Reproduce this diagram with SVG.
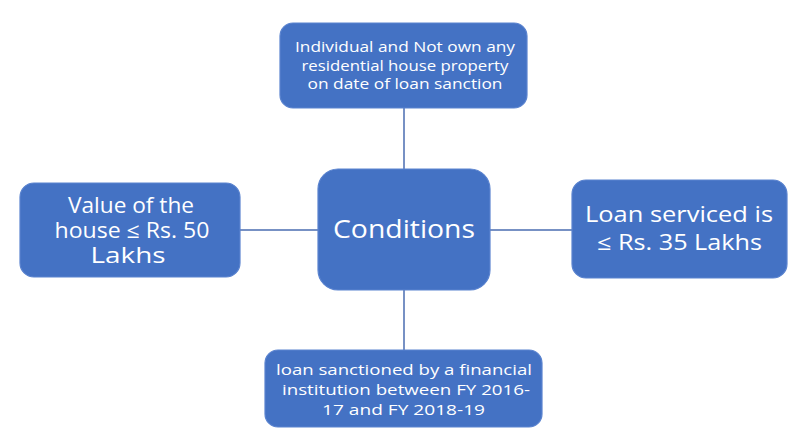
<svg xmlns="http://www.w3.org/2000/svg" width="806" height="448" viewBox="0 0 806 448">
<style>
.box{fill:#4472c4;stroke:#5a83cf;stroke-width:1.2}
.t{fill:#ffffff;font-family:"Open Sans","Noto Sans",sans-serif;text-anchor:middle}
.c{stroke:#4a6db0;stroke-width:1.5;fill:none}
</style>
<rect width="806" height="448" fill="#ffffff"/>
<g id="connectors">
<line class="c" x1="404" y1="108" x2="404" y2="169"/>
<line class="c" x1="404" y1="290" x2="404" y2="350"/>
<line class="c" x1="240" y1="230" x2="318" y2="230"/>
<line class="c" x1="490" y1="230" x2="572" y2="230"/>
</g>
<g id="n_top">
<rect class="box" x="280" y="23" width="247" height="85" rx="13"/>
<text class="t" font-size="14"><tspan x="405" y="52" textLength="220" lengthAdjust="spacingAndGlyphs">Individual and Not own any</tspan><tspan x="405" y="70.5" textLength="207" lengthAdjust="spacingAndGlyphs">residential house property</tspan><tspan x="405" y="89" textLength="195" lengthAdjust="spacingAndGlyphs">on date of loan sanction</tspan></text>
</g>
<g id="n_left">
<rect class="box" x="20" y="183" width="220" height="94" rx="14"/>
<text class="t" font-size="21"><tspan x="131" y="213" textLength="126" lengthAdjust="spacingAndGlyphs">Value of the</tspan><tspan x="132" y="238" textLength="155" lengthAdjust="spacingAndGlyphs">house ≤ Rs. 50</tspan><tspan x="128" y="263" textLength="75" lengthAdjust="spacingAndGlyphs">Lakhs</tspan></text>
</g>
<g id="n_center">
<rect class="box" x="318" y="169" width="172" height="121" rx="20"/>
<text class="t" font-size="25" x="404" y="238" textLength="142" lengthAdjust="spacingAndGlyphs">Conditions</text>
</g>
<g id="n_right">
<rect class="box" x="572" y="180" width="215" height="98" rx="14"/>
<text class="t" font-size="21"><tspan x="679" y="222" textLength="188" lengthAdjust="spacingAndGlyphs">Loan serviced is</tspan><tspan x="679.5" y="250" textLength="165" lengthAdjust="spacingAndGlyphs">≤ Rs. 35 Lakhs</tspan></text>
</g>
<g id="n_bottom">
<rect class="box" x="265" y="350" width="277" height="77" rx="13"/>
<text class="t" font-size="14"><tspan x="404" y="375" textLength="256" lengthAdjust="spacingAndGlyphs">loan sanctioned by a financial</tspan><tspan x="406" y="395" textLength="248" lengthAdjust="spacingAndGlyphs">institution between FY 2016-</tspan><tspan x="403.5" y="415" textLength="163" lengthAdjust="spacingAndGlyphs">17 and FY 2018-19</tspan></text>
</g>
</svg>
